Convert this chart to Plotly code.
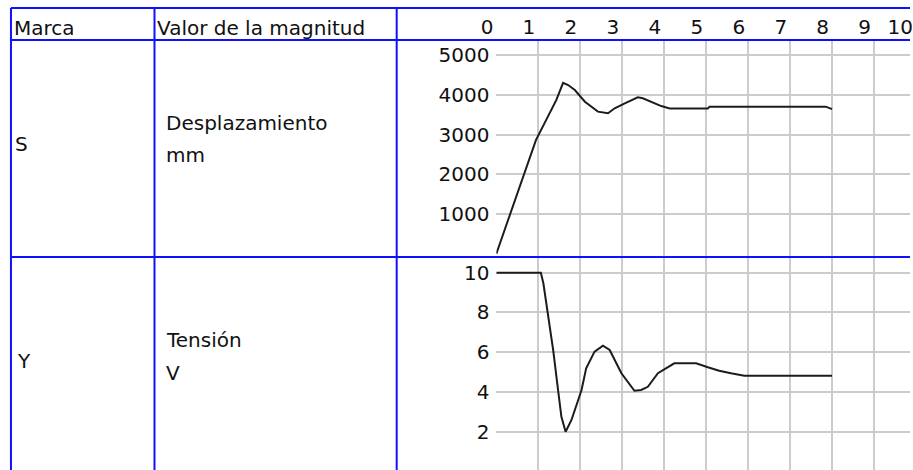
import plotly.graph_objects as go

# ---- data -------------------------------------------------------------
# time axis of the function diagram (s)
time_ticks = list(range(0, 11))

# S: Desplazamiento (mm)
t_disp = [0, 0.943, 1.43, 1.59, 1.71, 1.87, 2.11, 2.42, 2.66, 2.82, 3.06,
          3.37, 3.49, 3.61, 3.77, 3.93, 4.13, 5.04, 5.08, 7.85, 8.0]
disp_mm = [0, 2860, 3870, 4300, 4245, 4120, 3825, 3575, 3535, 3660, 3785,
           3935, 3910, 3860, 3780, 3715, 3655, 3655, 3700, 3700, 3640]
disp_ticks = [1000, 2000, 3000, 4000, 5000]

# Y: Tensión (V)
t_volt = [0, 1.06, 1.12, 1.235, 1.354, 1.47, 1.55, 1.65, 1.79, 2.03, 2.14,
          2.34, 2.54, 2.70, 2.98, 3.29, 3.45, 3.61, 3.85, 4.24, 4.76, 5.04,
          5.31, 5.59, 5.91, 8.0]
volt_v = [10, 10, 9.47, 7.79, 6.11, 4.10, 2.75, 2.0, 2.59, 4.10, 5.19,
          6.03, 6.33, 6.11, 4.94, 4.06, 4.10, 4.26, 4.94, 5.44, 5.44, 5.24,
          5.07, 4.94, 4.82, 4.82]
volt_ticks = [2, 4, 6, 8, 10]

# table texts
header_labels = ["Marca", "Valor de la magnitud"]
row_marks = ["S", "Y"]
row_names = ["Desplazamiento", "Tensión"]
row_units = ["mm", "V"]

# ---- table geometry (pixels) -----------------------------------------
W, H = 913, 470
ROW_TOP, HEAD_BOT, ROW_SPLIT = 8, 40, 257
COL_X = [11, 155, 398]
X0, PX_PER_S = 498.0, 42.1          # t = 0 position, pixels per second
S0, PX_PER_MM = 253.75, 39.75 / 1000
V0, PX_PER_V = 471.45, 19.875
LABEL_OFF = 8                       # header numbers sit left of their grid line


def fx(px):
    return px / W


def fy(py):
    return 1 - py / H


FONT = dict(family="DejaVu Sans", size=20, color="#111111")
GRID = "#cccccc"
BLUE = "#1010ff"
LINE = "#1c1c1c"

fig = go.Figure()
fig.add_trace(go.Scatter(x=t_disp, y=disp_mm, mode="lines",
                         line=dict(color=LINE, width=2),
                         xaxis="x2", yaxis="y", hoverinfo="skip"))
fig.add_trace(go.Scatter(x=t_volt, y=volt_v, mode="lines",
                         line=dict(color=LINE, width=2),
                         xaxis="x", yaxis="y2", hoverinfo="skip"))
# carrier for the header time scale
fig.add_trace(go.Scatter(x=[None], y=[None], xaxis="x3", yaxis="y3",
                         hoverinfo="skip"))

t_range = [0, (W - X0) / PX_PER_S]
grid_x = dict(domain=[fx(X0), 1], range=t_range, showgrid=True,
              gridcolor=GRID, gridwidth=2, tick0=0, dtick=1,
              showticklabels=False, zeroline=False, showline=False,
              ticks="", fixedrange=True)

fig.update_layout(
    width=W, height=H,
    margin=dict(l=0, r=0, t=0, b=0),
    paper_bgcolor="white", plot_bgcolor="rgba(0,0,0,0)",
    showlegend=False,
    font=FONT,
    xaxis=dict(anchor="y2", **grid_x),
    xaxis2=dict(anchor="y", matches="x", **grid_x),
    xaxis3=dict(
        domain=[fx(465), 1],
        range=[(465 - (X0 - LABEL_OFF)) / PX_PER_S,
               (W - (X0 - LABEL_OFF)) / PX_PER_S],
        anchor="free", position=fy(HEAD_BOT), side="top",
        tickvals=time_ticks, ticktext=[str(v) for v in time_ticks],
        ticklabelposition="outside left", ticklabeloverflow="allow",
        ticklabelshift=5, ticklabelstandoff=2,
        showgrid=False, zeroline=False, showline=False, ticks="",
        tickfont=FONT, fixedrange=True),
    yaxis=dict(
        domain=[fy(ROW_SPLIT), fy(HEAD_BOT)],
        range=[(S0 - ROW_SPLIT) / PX_PER_MM, (S0 - HEAD_BOT) / PX_PER_MM],
        tickvals=disp_ticks, ticktext=[str(v) for v in disp_ticks],
        showgrid=True, gridcolor=GRID, gridwidth=2, zeroline=False,
        showline=False, ticks="", ticklabelstandoff=6, tickfont=FONT,
        fixedrange=True),
    yaxis2=dict(
        domain=[0, fy(ROW_SPLIT)],
        range=[(V0 - H) / PX_PER_V, (V0 - ROW_SPLIT) / PX_PER_V],
        tickvals=volt_ticks, ticktext=[str(v) for v in volt_ticks],
        showgrid=True, gridcolor=GRID, gridwidth=2, zeroline=False,
        showline=False, ticks="", ticklabelstandoff=6, tickfont=FONT,
        fixedrange=True),
    yaxis3=dict(domain=[fy(HEAD_BOT), fy(ROW_TOP)], visible=False,
                fixedrange=True),
)

# blue table rules
shapes = []
for py in (ROW_TOP, HEAD_BOT, ROW_SPLIT):
    shapes.append(dict(type="line", xref="paper", yref="paper",
                       x0=fx(COL_X[0]), x1=1, y0=fy(py), y1=fy(py),
                       line=dict(color=BLUE, width=2), layer="above"))
for px in COL_X:
    shapes.append(dict(type="line", xref="paper", yref="paper",
                       x0=fx(px), x1=fx(px), y0=fy(ROW_TOP), y1=0,
                       line=dict(color=BLUE, width=2), layer="above"))
fig.update_layout(shapes=shapes)

# table texts: (text, left px, centre py)
cells = [
    (header_labels[0], 13, 28),
    (header_labels[1], 157, 28),
    (row_marks[0], 14, 144),
    (row_names[0], 166, 123),
    (row_units[0], 166, 155),
    (row_marks[1], 16, 361),
    (row_names[1], 166, 340),
    (row_units[1], 166, 373),
]
for text, px, py in cells:
    fig.add_annotation(text=text, x=fx(px), y=fy(py), xref="paper",
                       yref="paper", xanchor="left", yanchor="middle",
                       showarrow=False, font=FONT, borderpad=0)

fig.write_html("out.html", config=dict(displayModeBar=False))
